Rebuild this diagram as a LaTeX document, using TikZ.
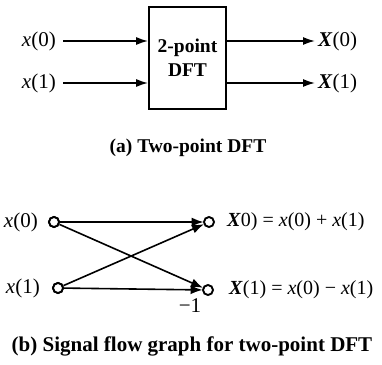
\documentclass[tikz,border=0pt]{standalone}
\usepackage{fontspec}
\setmainfont{Liberation Serif}
\usetikzlibrary{arrows.meta}
\begin{document}
\begin{tikzpicture}[x=1pt,y=-1pt,
  lbl/.style={font=\fontsize{21}{24}\selectfont, inner sep=0pt},
  eqlbl/.style={font=\fontsize{20}{24}\selectfont, inner sep=0pt},
  captext/.style={font=\fontsize{19.5}{22}\selectfont\bfseries, inner sep=0pt},
  flow/.style={line width=1.6pt, -{Latex[length=12pt,width=8pt]}},
  sfg/.style={line width=1.6pt, -{Latex[length=12pt,width=9pt]}, shorten >=-0.5pt},
  dot/.style={circle, draw, line width=1.9pt, minimum size=10pt, inner sep=0pt, fill=white}]
\useasboundingbox (0,0) rectangle (382,364);
% (a)
\node[draw, line width=1.8pt, minimum width=77pt, minimum height=102pt, inner sep=0pt,
  align=center, font=\fontsize{19.5}{24}\selectfont\bfseries] (dft) at (187.5,58) {2-point\\DFT};
\node[lbl, anchor=east] (a0) at (56,41) {\textit{x}(0)};
\node[lbl, anchor=east] (a1) at (56,83) {\textit{x}(1)};
\node[lbl, anchor=west] (b0) at (318,41) {\textbf{\textit{X}}(0)};
\node[lbl, anchor=west] (b1) at (318,83) {\textbf{\textit{X}}(1)};
\coordinate (a0e) at (63,41);
\coordinate (a1e) at (63,83);
\coordinate (b0s) at (315,41);
\coordinate (b1s) at (315,83);
\draw[flow] (a0e) -- (a0e -| dft.west);
\draw[flow] (a1e) -- (a1e -| dft.west);
\draw[flow] (b0s -| dft.east) -- (b0s);
\draw[flow] (b1s -| dft.east) -- (b1s);
\node[captext] (capa) at (188,148) {(a) Two-point DFT};
% (b)
\node[dot] (n0) at (54,222) {};
\node[dot] (n1) at (58,288) {};
\node[dot] (m0) at (209,222) {};
\node[dot] (m1) at (208,290) {};
\draw[sfg] (n0) -- (m0);
\draw[sfg] (n0) -- (m1);
\draw[sfg] (n1) -- (m0);
\draw[sfg] (n1) -- (m1);
\node[dot] at (n0) {};
\node[dot] at (n1) {};
\node[lbl, anchor=east] (l0) at (38,222) {\textit{x}(0)};
\node[lbl, anchor=east] (l1) at (40,288) {\textit{x}(1)};
\node[eqlbl, anchor=west] (r0) at (227,222) {\textbf{\textit{X}}0) = \textit{x}(0) + \textit{x}(1)};
\node[eqlbl, anchor=west] (r1) at (229,290) {\textbf{\textit{X}}(1) = \textit{x}(0) \textminus{} \textit{x}(1)};
\node[lbl] (g) at (190,306) {\textminus 1};
\node[captext, font=\fontsize{21}{24}\selectfont\bfseries] (capb) at (192,346) {(b) Signal flow graph for two-point DFT};
\end{tikzpicture}
\end{document}
